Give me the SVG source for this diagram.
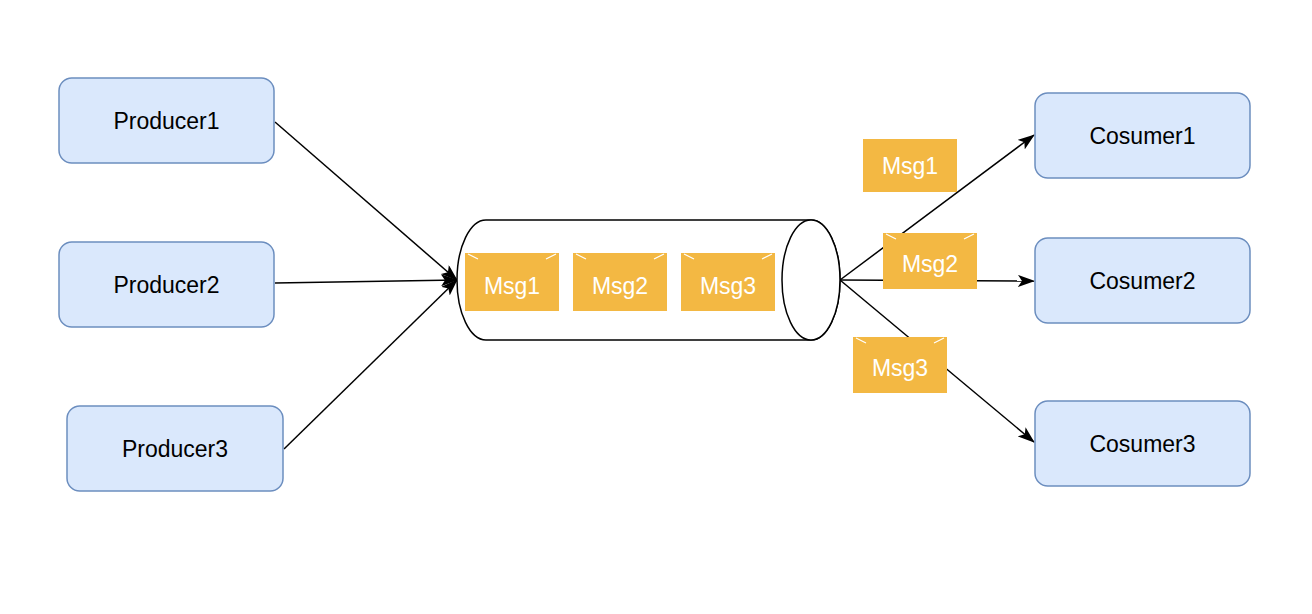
<svg xmlns="http://www.w3.org/2000/svg" width="1312" height="614" viewBox="0 0 1312 614">
<style>
.node rect{fill:#dae8fc;stroke:#6c8ebf;stroke-width:1.5}
.node text{font-family:"Liberation Sans",Arial,sans-serif;font-size:23px;fill:#000;text-anchor:middle}
.msg rect{fill:#f3b843;stroke:none}
.msg path{stroke:#fff;stroke-width:1.2;fill:none}
.msg text{font-family:"Liberation Sans",Arial,sans-serif;font-size:23px;fill:#fff;text-anchor:middle}
.edge{stroke:#000;stroke-width:1.5;fill:none;marker-end:url(#arr)}
</style>
<defs>
<marker id="arr" viewBox="0 0 17 12" refX="16" refY="6" markerWidth="17" markerHeight="12" markerUnits="userSpaceOnUse" orient="auto">
<path d="M0,0 L17,6 L0,12 L4,6 Z" fill="#000"/>
</marker>
</defs>
<rect width="1312" height="614" fill="#fff"/>
<g id="connectors">
<line class="edge" x1="275" y1="122" x2="457" y2="280"/>
<line class="edge" x1="275" y1="283" x2="457" y2="280"/>
<line class="edge" x1="284" y1="449" x2="457" y2="280"/>
<line class="edge" x1="840" y1="280" x2="1034" y2="135"/>
<line class="edge" x1="840" y1="280" x2="1034" y2="281"/>
<line class="edge" x1="840" y1="280" x2="1034" y2="442"/>
</g>
<g id="producer1" class="node"><rect x="59" y="78" width="215" height="85" rx="12.75"/><text x="166.5" y="129">Producer1</text></g>
<g id="producer2" class="node"><rect x="59" y="242" width="215" height="85" rx="12.75"/><text x="166.5" y="293">Producer2</text></g>
<g id="producer3" class="node"><rect x="67" y="406" width="216" height="85" rx="12.75"/><text x="175" y="457">Producer3</text></g>
<g id="cosumer1" class="node"><rect x="1035" y="93" width="215" height="85" rx="12.75"/><text x="1142.5" y="144">Cosumer1</text></g>
<g id="cosumer2" class="node"><rect x="1035" y="238" width="215" height="85" rx="12.75"/><text x="1142.5" y="289">Cosumer2</text></g>
<g id="cosumer3" class="node"><rect x="1035" y="401" width="215" height="85" rx="12.75"/><text x="1142.5" y="452">Cosumer3</text></g>
<g id="queue">
<path d="M486,220 L811,220 A29,60 0 0 1 811,340 L486,340 A29,60 0 0 1 486,220 Z" fill="#fff" stroke="#000" stroke-width="1.5"/>
<ellipse cx="811" cy="280" rx="29" ry="60" fill="#fff" stroke="#000" stroke-width="1.5"/>
</g>
<g id="qmsg1" class="msg"><rect x="465" y="253" width="94" height="58"/><path d="M468,254 L478,259 M556,254 L546,259"/><text x="512" y="294">Msg1</text></g>
<g id="qmsg2" class="msg"><rect x="573" y="253" width="94" height="58"/><path d="M576,254 L586,259 M664,254 L654,259"/><text x="620" y="294">Msg2</text></g>
<g id="qmsg3" class="msg"><rect x="681" y="253" width="94" height="58"/><path d="M684,254 L694,259 M772,254 L762,259"/><text x="728" y="294">Msg3</text></g>
<g id="omsg1" class="msg"><rect x="863" y="139" width="94" height="53"/><text x="910" y="174">Msg1</text></g>
<g id="omsg2" class="msg"><rect x="883" y="233" width="94" height="56"/><path d="M886,234 L896,239 M974,234 L964,239"/><text x="930" y="272">Msg2</text></g>
<g id="omsg3" class="msg"><rect x="853" y="337" width="94" height="56"/><path d="M856,338 L866,343 M944,338 L934,343"/><text x="900" y="376">Msg3</text></g>
</svg>
